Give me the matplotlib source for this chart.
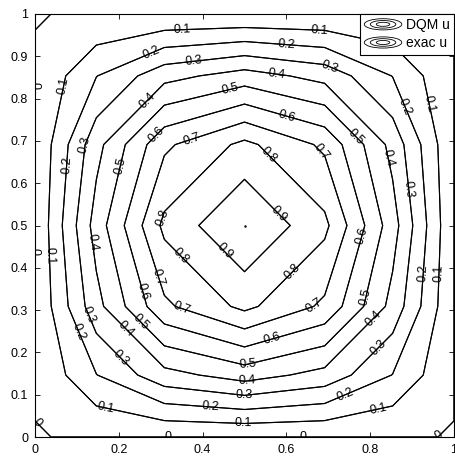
import numpy as np
import matplotlib.pyplot as plt
from matplotlib.patches import Ellipse
from matplotlib.legend_handler import HandlerBase
from matplotlib.lines import Line2D
from matplotlib.ticker import FormatStrFormatter

plt.rcParams['font.family'] = ['Liberation Sans', 'DejaVu Sans']

# Chebyshev-Gauss-Lobatto nodes (9 points) used by the DQM solver
x_nodes = [0.0, 0.0381, 0.1464, 0.3087, 0.5, 0.6913, 0.8536, 0.9619, 1.0]
y_nodes = [0.0, 0.0381, 0.1464, 0.3087, 0.5, 0.6913, 0.8536, 0.9619, 1.0]

# DQM solution u at the nodes (rows = y, columns = x)
u_dqm = [
    [0, 0,      0,      0,      0,      0,      0,      0,      0],
    [0, 0.0142, 0.0530, 0.0984, 0.1193, 0.0984, 0.0530, 0.0142, 0],
    [0, 0.0530, 0.1971, 0.3662, 0.4440, 0.3662, 0.1971, 0.0530, 0],
    [0, 0.0984, 0.3662, 0.6803, 0.8248, 0.6803, 0.3662, 0.0984, 0],
    [0, 0.1193, 0.4440, 0.8248, 1.0000, 0.8248, 0.4440, 0.1193, 0],
    [0, 0.0984, 0.3662, 0.6803, 0.8248, 0.6803, 0.3662, 0.0984, 0],
    [0, 0.0530, 0.1971, 0.3662, 0.4440, 0.3662, 0.1971, 0.0530, 0],
    [0, 0.0142, 0.0530, 0.0984, 0.1193, 0.0984, 0.0530, 0.0142, 0],
    [0, 0,      0,      0,      0,      0,      0,      0,      0],
]
# exact u = sin(pi x) sin(pi y) at the same nodes (same to 4 decimals)
u_exact = [row[:] for row in u_dqm]

levels = [0, 0.1, 0.2, 0.3, 0.4, 0.5, 0.6, 0.7, 0.8, 0.9]

# where the contour labels go
label_pos = [
    (0.351, 0.961), (0.678, 0.961), (0.064, 0.832), (0.938, 0.787), (0.029, 0.429),
    (0.969, 0.387), (0.169, 0.069), (0.819, 0.069), (0.496, 0.034),
    (0.279, 0.904), (0.599, 0.924), (0.072, 0.644), (0.885, 0.782), (0.103, 0.248),
    (0.931, 0.387), (0.418, 0.072), (0.742, 0.100),
    (0.379, 0.886), (0.702, 0.872), (0.117, 0.691), (0.890, 0.585), (0.124, 0.288),
    (0.203, 0.187), (0.821, 0.211), (0.499, 0.102),
    (0.267, 0.796), (0.575, 0.853), (0.840, 0.660), (0.131, 0.460), (0.215, 0.253),
    (0.807, 0.281), (0.506, 0.135),
    (0.465, 0.820), (0.764, 0.707), (0.200, 0.641), (0.251, 0.269), (0.790, 0.331),
    (0.506, 0.178),
    (0.291, 0.712), (0.599, 0.754), (0.783, 0.476), (0.253, 0.342), (0.566, 0.234),
    (0.375, 0.702), (0.683, 0.672), (0.294, 0.378), (0.351, 0.305), (0.663, 0.314),
    (0.303, 0.519), (0.556, 0.665), (0.346, 0.425), (0.616, 0.389),
    (0.580, 0.526), (0.449, 0.436),
    (0.0, 0.832), (0.0, 0.439), (0.317, 0.0), (0.640, 0.0), (0.967, 0.0),
    (0.005, 0.034),
]


class HandlerRings(HandlerBase):
    # concentric ellipses, like a contour legend icon
    def create_artists(self, legend, orig_handle, xdescent, ydescent,
                       width, height, fontsize, trans):
        cx = width / 2 - xdescent
        cy = height / 2 - ydescent
        arts = []
        for f in (1.0, 0.68, 0.36):
            e = Ellipse((cx, cy), width * f, height * 1.15 * f, fill=False,
                        edgecolor='k', lw=0.6, transform=trans)
            arts.append(e)
        return arts


X, Y = np.meshgrid(x_nodes, y_nodes)

fig = plt.figure(figsize=(4.55, 4.57), dpi=100)
ax = fig.add_axes([35 / 455, 20 / 457, 419 / 455, 423 / 457])

cs = ax.contour(X, Y, np.array(u_dqm), levels=levels, colors='k', linewidths=0.8)
ax.contour(X, Y, np.array(u_exact), levels=levels, colors='k', linewidths=0.8)
labels = ax.clabel(cs, levels, inline=False, fontsize=9, fmt='%g', manual=label_pos)
for t in labels:
    t.set_clip_on(True)
    t.set_clip_box(ax.bbox)

# peak of the solution (level 1 collapses to a point)
u_arr = np.array(u_dqm)
j, i = np.unravel_index(np.argmax(u_arr), u_arr.shape)
ax.plot(x_nodes[i], y_nodes[j], 'k.', ms=1.5)

ax.set_xlim(0, 1)
ax.set_ylim(0, 1)
ax.set_xticks([0, 0.2, 0.4, 0.6, 0.8, 1])
ax.set_yticks([0, 0.1, 0.2, 0.3, 0.4, 0.5, 0.6, 0.7, 0.8, 0.9, 1])
ax.xaxis.set_major_formatter(FormatStrFormatter('%g'))
ax.yaxis.set_major_formatter(FormatStrFormatter('%g'))
ax.tick_params(direction='in', length=3.5, width=0.6, top=True, right=True,
               labelsize=9, pad=5)
for s in ax.spines.values():
    s.set_linewidth(0.8)

h1 = Line2D([], [])
h2 = Line2D([], [])
leg = ax.legend([h1, h2], ['DQM u', 'exac u'], loc='upper right',
                handler_map={h1: HandlerRings(), h2: HandlerRings()},
                fontsize=10, fancybox=False, edgecolor='k', framealpha=1,
                borderaxespad=0, handlelength=2.7, handletextpad=0.3,
                borderpad=0.3, labelspacing=0.3)
leg.get_frame().set_linewidth(0.8)

plt.savefig('out.png')
